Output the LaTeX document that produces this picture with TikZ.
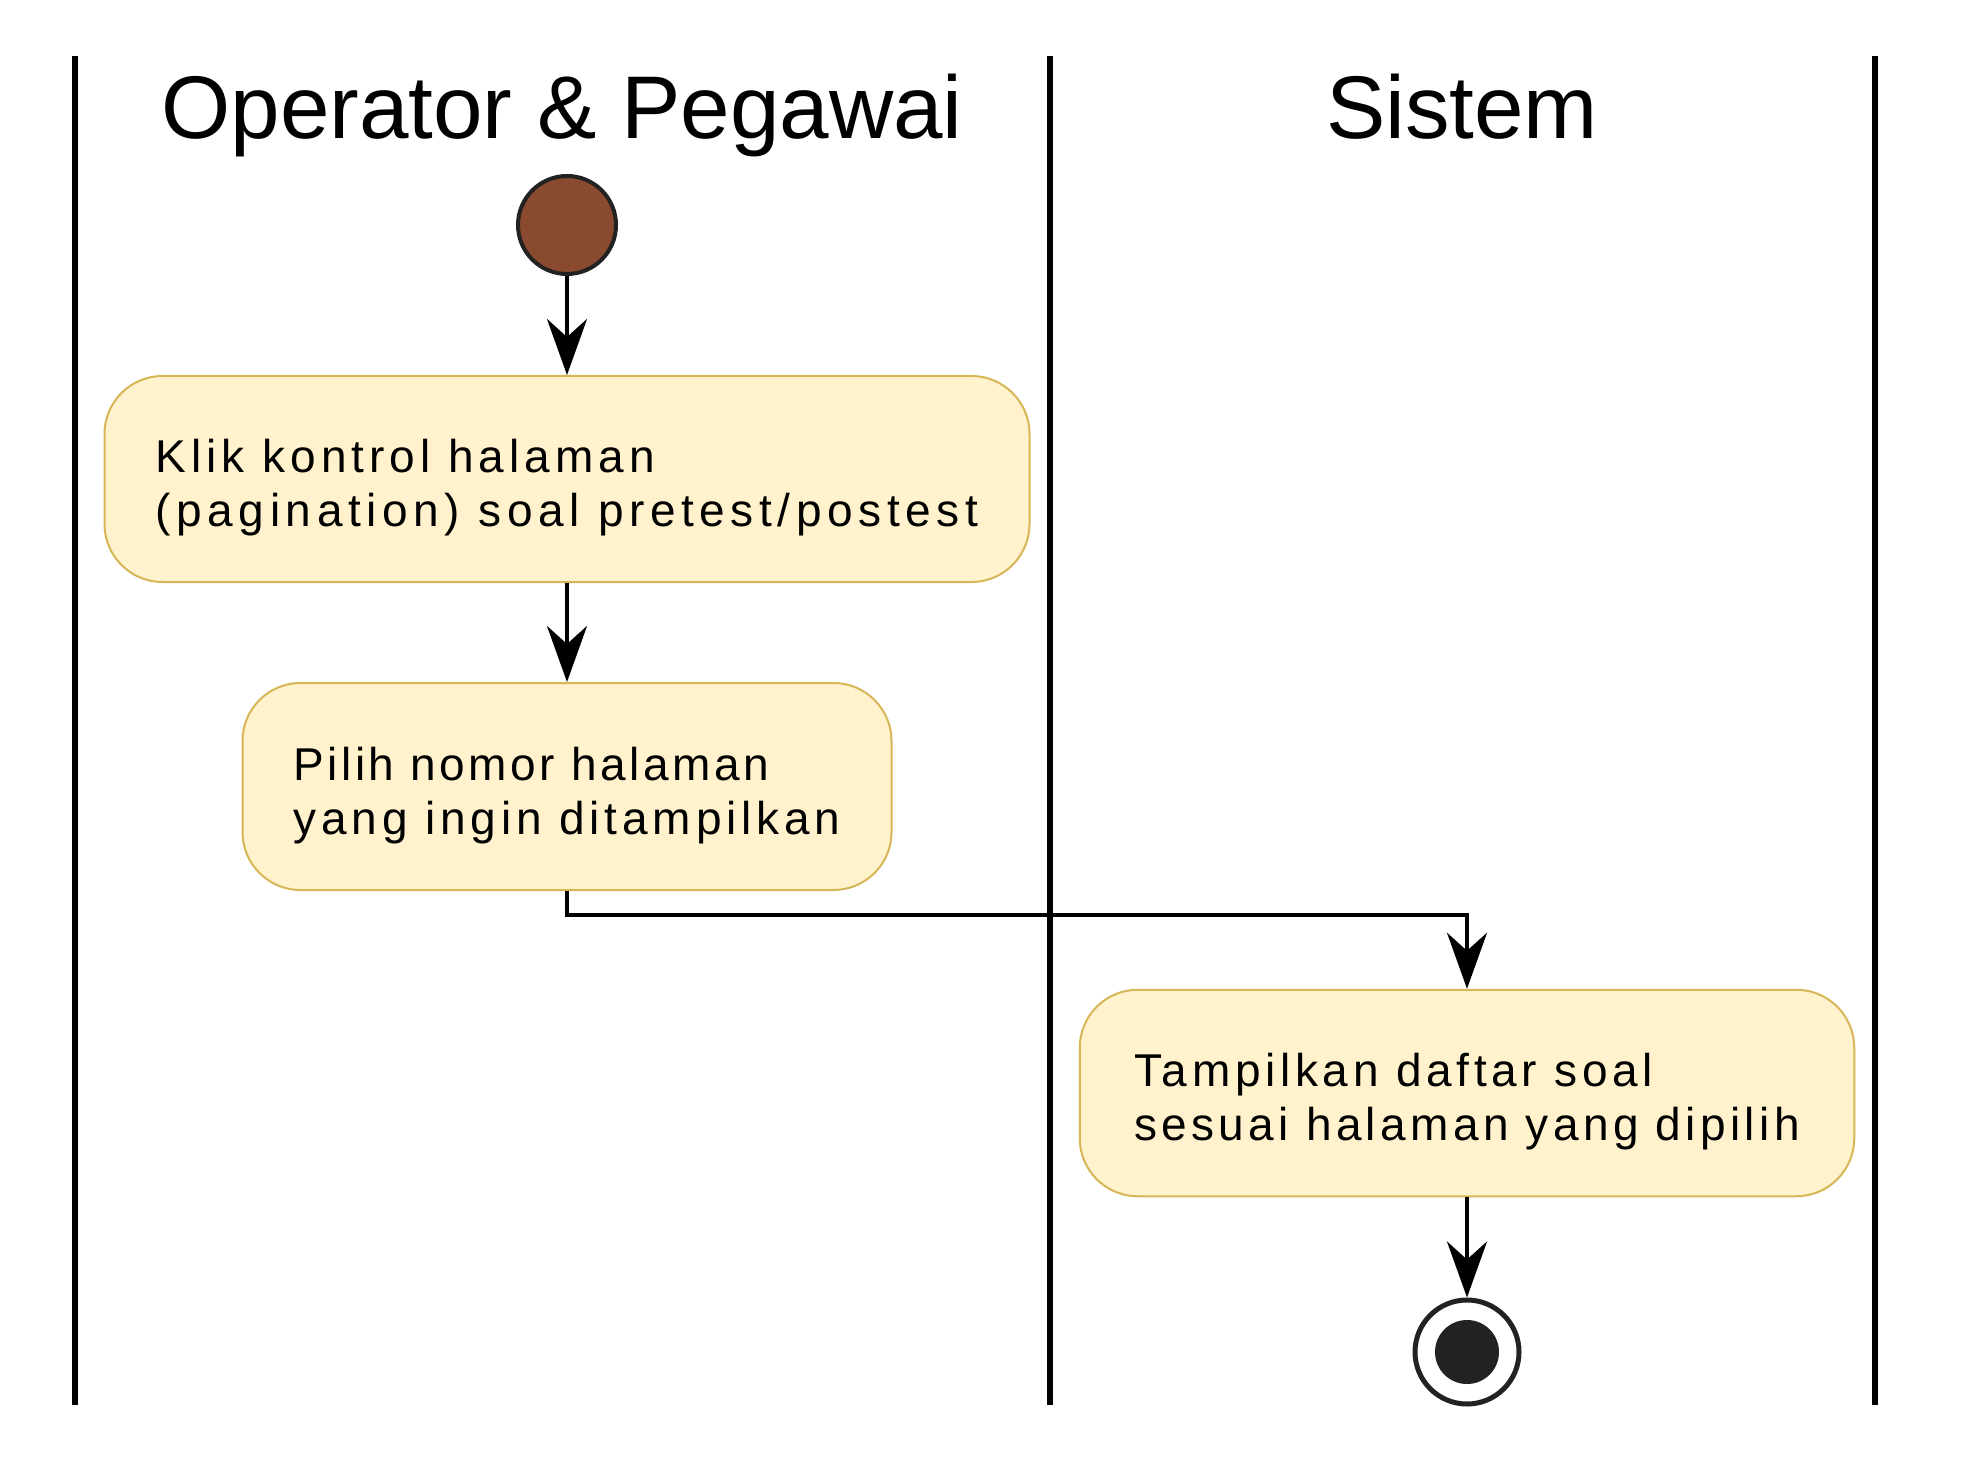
\documentclass[tikz,border=0pt]{standalone}
\usepackage{fontspec}
\setmainfont{Liberation Sans}
\newcommand\lspc[1]{\addfontfeatures{LetterSpace=#1}}
\usetikzlibrary{arrows.meta}
\definecolor{actfill}{HTML}{FFF2CC}
\definecolor{actdraw}{HTML}{D6B656}
\definecolor{startfill}{HTML}{8A4A30}
\definecolor{darkgr}{HTML}{222222}
\begin{document}
\begin{tikzpicture}[x=0.5pt,y=-0.5pt,
  lane/.style={line width=2.75pt, black},
  act/.style={draw=actdraw, fill=actfill, line width=1pt, rounded corners=29pt, inner sep=0pt},
  acttext/.style={align=left, inner sep=0pt, yshift=-4.5pt, font=\fontsize{23}{27}\selectfont},
  flow/.style={line width=2pt, black, -{Stealth[length=28pt,width=20pt,inset=9pt]}},
  lanetitle/.style={font=\fontsize{44.5}{50}\selectfont, anchor=base, inner sep=0pt}]
\useasboundingbox (0,0) rectangle (1980,1465);
\fill[white] (0,0) rectangle (1980,1465);
% swimlane borders
\draw[lane] (75,56) -- (75,1405);
\draw[lane] (1050,56) -- (1050,1405);
\draw[lane] (1875,56) -- (1875,1405);
% lane titles
\node[lanetitle] (laneA) at (562,139) {Operator \& Pegawai};
\node[lanetitle] (laneB) at (1462,139) {Sistem};
% start
\node[circle, draw=darkgr, fill=startfill, line width=2pt, minimum size=49pt, inner sep=0pt] (start) at (567,225) {};
% activities
\node[act, minimum width=462.5pt, minimum height=103pt] (box1) at (567,479) {};
\node[acttext] (t1) at (box1.center) {{\lspc{10.9}Klik kontrol halaman}\\{\lspc{12.2}(pagination) soal pretest/postest}};
\node[act, minimum width=324.5pt, minimum height=103.5pt] (box2) at (567,786.5) {};
\node[acttext] (t2) at (box2.center) {{\lspc{7.6}Pilih nomor halaman}\\{\lspc{10.5}yang ingin ditampilkan}};
\node[act, minimum width=387.25pt, minimum height=103.25pt] (box3) at (1467,1093) {};
\node[acttext] (t3) at (box3.center) {{\lspc{10.2}Tampilkan daftar soal}\\{\lspc{9.5}sesuai halaman yang dipilih}};
% end
\node[circle, draw=darkgr, fill=white, line width=2.5pt, minimum size=52pt, inner sep=0pt] (end) at (1467,1352) {};
\node[circle, fill=darkgr, minimum size=32pt, inner sep=0pt] (endin) at (end.center) {};
% flows
\draw[flow] (start) -- (box1);
\draw[flow] (box1) -- (box2);
\coordinate (elb) at (567,914.5);
\draw[flow] (box2.south) -- (elb) -| (box3.north);
\draw[flow] (box3) -- (end);
\end{tikzpicture}
\end{document}
